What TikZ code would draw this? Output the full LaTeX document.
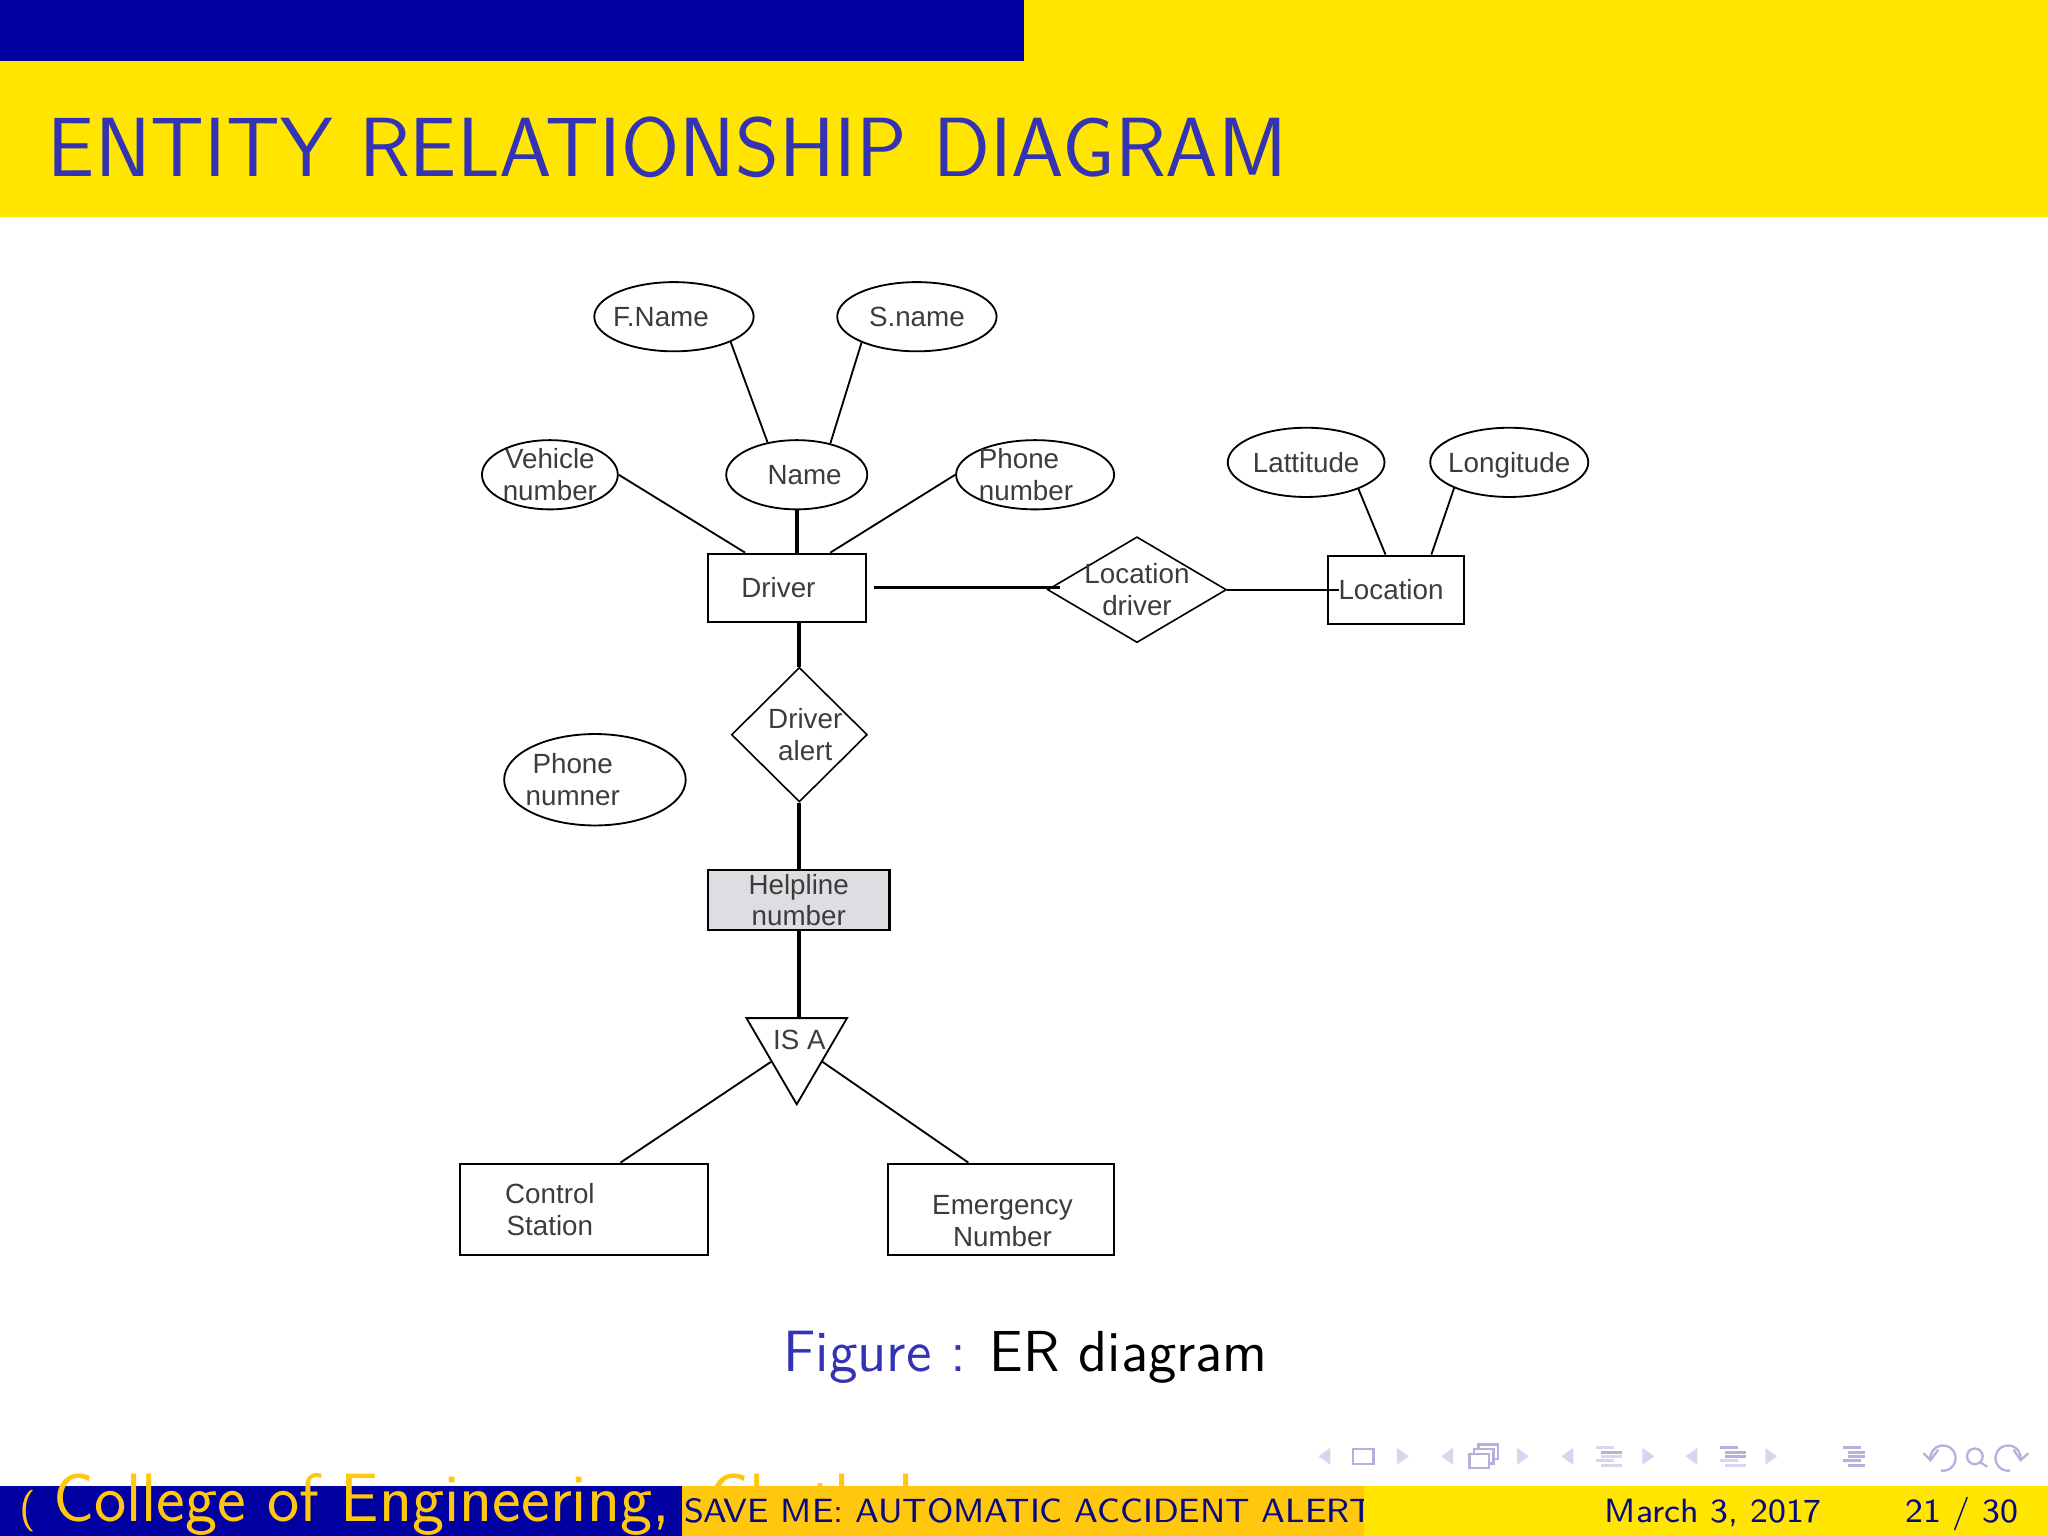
\documentclass[tikz,border=0pt]{standalone}
\usepackage{xcolor}
\usepackage{fontspec}
\usepackage{tikz}
\usetikzlibrary{shapes.geometric}
\setmainfont{Latin Modern Sans}
\newfontfamily\erfont{Liberation Sans}
\definecolor{barblue}{HTML}{0000A0}
\definecolor{baryellow}{HTML}{FFE500}
\definecolor{barorange}{HTML}{FFC80F}
\definecolor{titleblue}{HTML}{3333B3}
\definecolor{footblue}{HTML}{0A0A80}
\definecolor{navdark}{HTML}{B4B1DE}
\definecolor{navlight}{HTML}{D8D6EF}
\definecolor{ertext}{HTML}{3C3C3C}
\definecolor{helpgray}{HTML}{DEDDE2}

\begin{document}
\begin{tikzpicture}[-,node distance=1cm,
	er text/.style={font=\erfont\fontsize{6.05}{6.85}\selectfont, text=ertext, align=center},
	attr/.style={ellipse, draw, line width=0.4pt, inner sep=0pt, minimum height=0.53cm, er text},
	entity/.style={rectangle, draw, line width=0.5pt, inner sep=0pt, er text},
	rel/.style={diamond, draw, line width=0.35pt, inner sep=0pt, er text},
	isa tri/.style={isosceles triangle, isosceles triangle stretches, shape border rotate=-90, draw, line width=0.4pt, inner sep=0pt},
	thin edge/.style={line width=0.4pt},
	heavy edge/.style={line width=0.85pt},
	bar text/.style={inner sep=0pt, anchor=base west, font=\fontsize{7.33}{9}\selectfont, text=footblue}]
	
	\useasboundingbox (0,0) rectangle (15.68,-11.76);
	
	% header
	\fill[baryellow] (0,0) rectangle (15.68,-1.66);
	\fill[barblue] (0,0) rectangle (7.84,-0.47);
	\node[inner sep=0pt, anchor=base west, text=titleblue, font=\fontsize{18.3}{20}\selectfont] (title) at (0.36,-1.35) {ENTITY RELATIONSHIP DIAGRAM};
	
	% er diagram
	\node[entity, minimum width=1.21cm, minimum height=0.52cm, label={[er text, xshift=-0.065cm]center:Driver}] (drv) at (6.025,-4.5) {};
	\node[attr, minimum width=1.08cm, label={[er text, xshift=0.06cm]center:Name}] (name) [above of=drv, xshift = 0.075cm, yshift = -0.135cm] {};
	\node[attr, minimum width=1.22cm, label={[er text, xshift=-0.1cm]center:F.Name}] (fname) [above of=name, xshift = -0.94cm, yshift = 0.21cm] {};
	\node[attr, minimum width=1.22cm] (sname) [above of=name, xshift = 0.92cm, yshift = 0.21cm] {S.name};
	\node[attr, minimum width=1.04cm, label={[er text]center:Vehicle\\number}] (veh) [left of=name, xshift = -0.89cm] {};
	\node[attr, minimum width=1.21cm, label={[er text, align=left, xshift=-0.07cm]center:Phone\\number}] (phn) [right of=name, xshift = 0.825cm] {};
	
	\node[rel, minimum width=1.37cm, minimum height=0.81cm, label={[er text]center:Location\\driver}] (ldrv) [right of=drv, xshift = 1.68cm, yshift = -0.015cm] {};
	\node[entity, minimum width=1.04cm, minimum height=0.52cm, label={[er text, xshift=-0.04cm]center:Location}] (loc) [right of=ldrv, xshift = 0.985cm] {};
	\node[attr, minimum width=1.2cm, label={[er text]center:Lattitude}] (lat) [above of=loc, xshift = -0.69cm, yshift = -0.025cm] {};
	\node[attr, minimum width=1.21cm, label={[er text, yshift=-0.025cm]center:Longitude}] (lon) [above of=loc, xshift = 0.865cm, yshift = -0.025cm] {};
	
	\node[rel, minimum width=1.04cm, minimum height=1.03cm, label={[er text, xshift=0.045cm]center:Driver\\alert}] (alert) [below of=drv, xshift = 0.095cm, yshift = -0.125cm] {};
	\node[attr, minimum width=1.39cm, minimum height=0.7cm, label={[er text, xshift=-0.17cm]center:Phone\\numner}] (pnum) [left of=alert, xshift = -0.565cm, yshift = -0.345cm] {};
	\node[entity, fill=helpgray, minimum width=1.39cm, minimum height=0.46cm, label={[er text]center:Helpline\\number}] (help) [below of=alert, xshift = -0.005cm, yshift = -0.265cm] {};
	\node[isa tri, minimum width=0.77cm, minimum height=0.66cm, label={[er text, xshift=0.02cm, yshift=0.056cm]center:IS A}] (isa) [below of=help, xshift = -0.015cm, yshift = -0.126cm] {};
	\node[entity, minimum width=1.9cm, minimum height=0.7cm, label={[er text, xshift=-0.26cm]center:Control\\Station}] (ctrl) [below of=isa, xshift = -1.63cm, yshift = -0.244cm] {};
	\node[entity, minimum width=1.73cm, minimum height=0.7cm, label={[er text, xshift=0.01cm, yshift=-0.09cm]center:Emergency\\Number}] (emg) [below of=isa, xshift = 1.565cm, yshift = -0.244cm] {};
	
	\path[thin edge]
	(fname.-24) edge (name.132)
	(sname.205) edge (name.43)
	(veh.east) edge (drv.140)
	(phn.west) edge (drv.39)
	(lat.-27) edge (loc.107)
	(lon.205) edge (loc.45)
	(ldrv.east) edge[shorten >=-0.09cm] (ldrv.east -| loc.west)
	(isa.right side) edge (ctrl.52)
	(isa.left side) edge (emg.125);
	
	\path[heavy edge]
	(name.south) edge (name.south |- drv.north)
	(drv.east) edge[line width=0.65pt, shorten <=0.05cm, shorten >=-0.1cm] (drv.east -| ldrv.west)
	(alert.north |- drv.south) edge (alert.north)
	(alert.south) edge (alert.south |- help.north)
	(isa.lower side -| help.south) edge (help.south);
	
	% caption
	\node[inner sep=0pt, anchor=base west, text=titleblue, font=\fontsize{12.7}{16}\selectfont] (figlabel) at (5.99,-10.5) {Figure :};
	\node[inner sep=0pt, anchor=base west, text=black, font=\fontsize{12.6}{16}\selectfont] (figtext) at (7.57,-10.5) {ER diagram};
	
	% navigation symbols
	\foreach \xa/\xb in {10.14/10.74,11.08/11.66,12.0/12.62,12.95/13.56} {
		\fill[navlight] (\xa+0.045,-11.085) -- (\xa+0.045,-11.215) -- (\xa-0.045,-11.15) -- cycle;
		\fill[navlight] (\xb-0.045,-11.085) -- (\xb-0.045,-11.215) -- (\xb+0.045,-11.15) -- cycle;
	}
	\draw[navdark, line width=0.55pt] (10.36,-11.095) rectangle (10.515,-11.21);
	\draw[navdark, line width=0.5pt] (11.25,-11.13) rectangle (11.4,-11.24) (11.285,-11.13) -- (11.285,-11.095) -- (11.435,-11.095) -- (11.435,-11.205) -- (11.4,-11.205) (11.32,-11.095) -- (11.32,-11.06) -- (11.47,-11.06) -- (11.47,-11.17) -- (11.435,-11.17);
	\foreach \xs/\xe/\yy/\col in {12.22/12.36/11.08/navlight,12.26/12.42/11.12/navdark,12.26/12.42/11.15/navlight,12.22/12.36/11.18/navlight,12.26/12.42/11.22/navlight,
		13.17/13.31/11.08/navdark,13.21/13.37/11.12/navdark,13.21/13.37/11.15/navdark,13.17/13.31/11.18/navlight,13.21/13.37/11.22/navlight,
		14.11/14.25/11.08/navdark,14.15/14.28/11.12/navdark,14.15/14.28/11.15/navdark,14.11/14.25/11.18/navdark,14.15/14.28/11.22/navdark} {
		\draw[\col, line width=0.7pt] (\xs,-\yy) -- (\xe,-\yy);
	}
	\draw[navdark, line width=0.5pt] (14.726,-11.126) -- (14.78,-11.18) -- (14.84,-11.1) (14.78,-11.18) arc (190:-100:0.097);
	\draw[navdark, line width=0.5pt] (15.12,-11.15) circle (0.06) (15.16,-11.195) -- (15.215,-11.23);
	\draw[navdark, line width=0.5pt] (15.416,-11.1) -- (15.47,-11.18) -- (15.53,-11.126) (15.47,-11.18) arc (-10:280:0.097);
	
	% footer
	\fill[barblue] (0,-11.38) rectangle (5.22,-11.76);
	\node[inner sep=0pt, anchor=base west, text=barorange, font=\fontsize{9}{10}\selectfont] (footparen) at (0.14,-11.65) {(};
	\node[inner sep=0pt, anchor=base west, text=barorange, font=\fontsize{14.9}{16}\selectfont] (footcollege) at (0.4,-11.65) {College of Engineering,\hspace{0.13cm} Chethal};
	\fill[barorange] (5.22,-11.38) rectangle (10.44,-11.76);
	\node[bar text] (foottitle) at (5.23,-11.66) {SAVE ME: AUTOMATIC ACCIDENT ALERT};
	\fill[baryellow] (10.44,-11.38) rectangle (15.68,-11.76);
	\node[bar text] (footdate) at (12.28,-11.66) {March 3, 2017};
	\node[bar text] (footpage) at (14.58,-11.66) {21 / 30};
	
\end{tikzpicture}
\end{document}
